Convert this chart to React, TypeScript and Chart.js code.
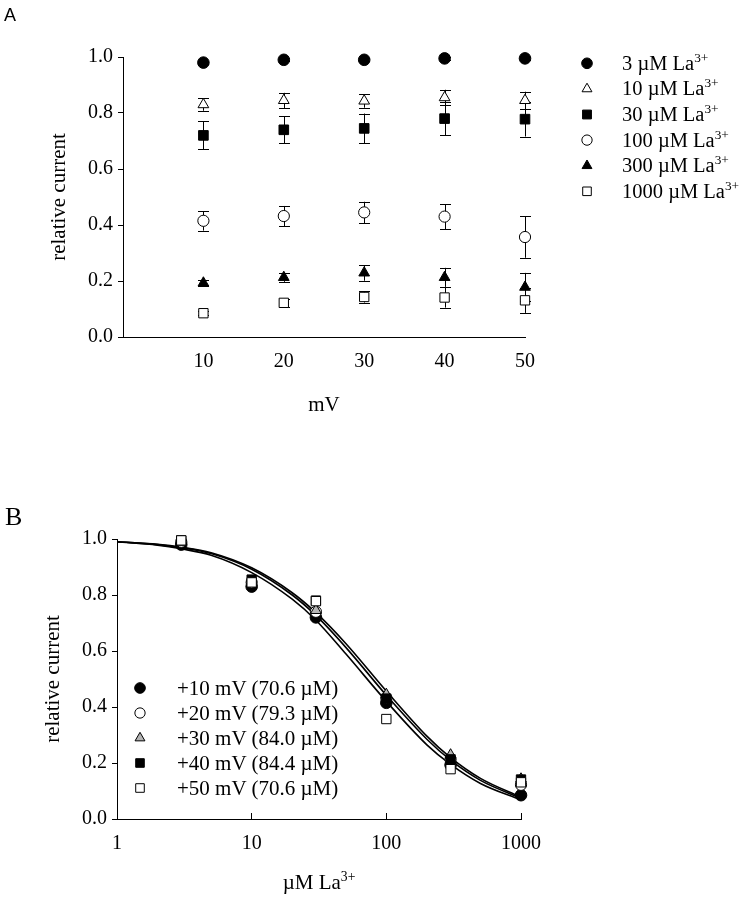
import React, { useEffect, useRef } from 'react';
import { Chart, registerables } from 'chart.js';
import { drawPoint } from 'chart.js/helpers';

Chart.register(...registerables);

const SERIF = "'Liberation Serif', 'Times New Roman', serif";
const SANS = "'Liberation Sans', Arial, sans-serif";

// ---------- Panel A data ----------
const voltages = [10, 20, 30, 40, 50];
const concentrations = [3, 10, 30, 100, 300, 1000];
const rel3 = [0.98, 0.99, 0.99, 0.995, 0.995];
const err3 = [0.005, 0.005, 0.005, 0.005, 0.005];
const rel10 = [0.83, 0.845, 0.843, 0.855, 0.845];
const err10 = [0.022, 0.027, 0.024, 0.028, 0.031];
const rel30 = [0.72, 0.74, 0.745, 0.78, 0.778];
const err30 = [0.05, 0.048, 0.053, 0.06, 0.062];
const rel100 = [0.415, 0.432, 0.445, 0.43, 0.357];
const err100 = [0.035, 0.036, 0.038, 0.045, 0.074];
const rel300 = [0.193, 0.213, 0.229, 0.213, 0.178];
const err300 = [0.012, 0.016, 0.028, 0.034, 0.051];
const rel1000 = [0.085, 0.122, 0.143, 0.141, 0.131];
const err1000 = [0.008, 0.014, 0.02, 0.036, 0.045];
const relByConc = [rel3, rel10, rel30, rel100, rel300, rel1000];
const errByConc = [err3, err10, err30, err100, err300, err1000];
const xTicksA = [10, 20, 30, 40, 50];
const yTicks = [0, 0.2, 0.4, 0.6, 0.8, 1.0];

// ---------- Panel B data ----------
const ic50 = [70.6, 79.3, 84.0, 84.4, 70.6];
const xTicksB = [1, 10, 100, 1000];
const curveX = [1, 2, 3, 5, 10, 20, 30, 50, 100, 200, 300, 500, 1000];
const curveLow = [0.99, 0.978, 0.965, 0.942, 0.88, 0.785, 0.71, 0.59, 0.42, 0.265, 0.195, 0.127, 0.068];
const curveMid = [0.99, 0.98, 0.969, 0.948, 0.892, 0.8, 0.727, 0.613, 0.442, 0.285, 0.21, 0.138, 0.074];
const curveHigh = [0.99, 0.981, 0.971, 0.951, 0.897, 0.808, 0.737, 0.627, 0.457, 0.296, 0.219, 0.145, 0.078];

// ---------- styles ----------
const stylesA = [
  { pointStyle: 'circle', fill: '#000', r: 5.8 },
  { pointStyle: 'triangle', fill: '#fff', r: 6.2 },
  { pointStyle: 'rect', fill: '#000', r: 6.8 },
  { pointStyle: 'circle', fill: '#fff', r: 5.6 },
  { pointStyle: 'triangle', fill: '#000', r: 6.2 },
  { pointStyle: 'rect', fill: '#fff', r: 6.6 },
];
const stylesB = [
  { pointStyle: 'circle', fill: '#000', r: 5.8 },
  { pointStyle: 'circle', fill: '#fff', r: 5.6 },
  { pointStyle: 'triangle', fill: '#b4b4b4', r: 6.2 },
  { pointStyle: 'rect', fill: '#000', r: 6.6 },
  { pointStyle: 'rect', fill: '#fff', r: 6.6 },
];

const errorBarPlugin = {
  id: 'errorBars',
  beforeDatasetsDraw(chart: any) {
    const { ctx } = chart;
    const xs = chart.scales.x;
    const ys = chart.scales.y;
    ctx.save();
    ctx.strokeStyle = '#000';
    ctx.lineWidth = 1;
    chart.data.datasets.forEach((ds: any) => {
      if (!ds.errors) return;
      ds.data.forEach((p: any, i: number) => {
        const e = ds.errors[i];
        if (!e) return;
        const x = Math.round(xs.getPixelForValue(p.x)) + 0.5;
        const yt = ys.getPixelForValue(p.y + e);
        const yb = ys.getPixelForValue(p.y - e);
        ctx.beginPath();
        ctx.moveTo(x, yt);
        ctx.lineTo(x, yb);
        ctx.moveTo(x - 5.5, Math.round(yt) + 0.5);
        ctx.lineTo(x + 5.5, Math.round(yt) + 0.5);
        ctx.moveTo(x - 5.5, Math.round(yb) + 0.5);
        ctx.lineTo(x + 5.5, Math.round(yb) + 0.5);
        ctx.stroke();
      });
    });
    ctx.restore();
  },
};

function legendMarkerPlugin(items: { style: string; fill: string; r: number; x: number; y: number }[]) {
  return {
    id: 'legendMarkers',
    afterDraw(chart: any) {
      const ctx = chart.ctx;
      items.forEach((it) => {
        ctx.save();
        ctx.fillStyle = it.fill;
        ctx.strokeStyle = '#000';
        ctx.lineWidth = 1;
        drawPoint(ctx, { pointStyle: it.style as any, radius: it.r, borderWidth: 1, rotation: 0 } as any, it.x, it.y);
        ctx.restore();
      });
    },
  };
}

const tickFont = { family: SERIF, size: 20 };
const titleFont = { family: SERIF, size: 21 };

function yAxis(width: number, titlePad: number) {
  return {
    type: 'linear',
    min: 0,
    max: 1,
    afterBuildTicks: (s: any) => {
      s.ticks = yTicks.map((v) => ({ value: v }));
    },
    afterFit: (s: any) => {
      s.width = width;
    },
    grid: { display: true, drawOnChartArea: false, drawTicks: true, tickLength: 5, color: '#000', lineWidth: 1 },
    border: { display: true, color: '#000', width: 1 },
    ticks: { color: '#000', font: tickFont, padding: 5, callback: (v: any) => Number(v).toFixed(1) },
    title: { display: true, text: 'relative current', color: '#000', font: titleFont, padding: { top: titlePad, bottom: 0 } },
  };
}

function Sup({ children }: { children: React.ReactNode }) {
  return <span style={{ fontSize: '0.65em', position: 'relative', top: '-0.6em' }}>{children}</span>;
}

function TextAt({ left, baseline, size, family, children, center }: any) {
  return (
    <div
      style={{
        position: 'absolute',
        left: center ? left - 200 : left,
        width: center ? 400 : undefined,
        textAlign: center ? 'center' : 'left',
        top: baseline - 0.8375 * size,
        fontSize: size,
        lineHeight: `${size}px`,
        fontFamily: family,
        whiteSpace: 'nowrap',
        color: '#000',
      }}
    >
      {children}
    </div>
  );
}

// legend layout
const legendAX = 587;
const legendAY0 = 63.3;
const legendAStep = 25.6;
const legendBX = 140;
const legendBY0 = 688;
const legendBStep = 25;
const B_TOP = 440;

export default function App() {
  const refA = useRef<HTMLCanvasElement>(null);
  const refB = useRef<HTMLCanvasElement>(null);

  useEffect(() => {
    const dsA = concentrations.map((c, k) => ({
      label: `${c} µM La3+`,
      data: voltages.map((v, i) => ({ x: v, y: relByConc[k][i] })),
      errors: errByConc[k],
      pointStyle: stylesA[k].pointStyle,
      pointRadius: stylesA[k].r,
      pointBackgroundColor: stylesA[k].fill,
      pointBorderColor: '#000',
      pointBorderWidth: 1,
      showLine: false,
      clip: false,
    }));
    const chartA = new Chart(refA.current!, {
      type: 'scatter',
      data: { datasets: dsA as any },
      plugins: [
        errorBarPlugin,
        legendMarkerPlugin(
          stylesA.map((s, k) => ({ style: s.pointStyle, fill: s.fill, r: s.r * 0.92, x: legendAX, y: legendAY0 + k * legendAStep }))
        ),
      ],
      options: {
        animation: false,
        responsive: false,
        devicePixelRatio: 1,
        layout: { padding: { left: 0, top: 57, right: 742 - 525, bottom: 420 - 337 - 82 } },
        plugins: { legend: { display: false }, tooltip: { enabled: false } },
        scales: {
          x: {
            type: 'linear',
            min: 0,
            max: 50,
            afterBuildTicks: (s: any) => {
              s.ticks = xTicksA.map((v) => ({ value: v }));
            },
            afterFit: (s: any) => {
              s.height = 82;
            },
            grid: { display: false, drawOnChartArea: false, drawTicks: false },
            border: { display: true, color: '#000', width: 1 },
            ticks: { color: '#000', font: tickFont, padding: 13, maxRotation: 0, autoSkip: false },
            title: { display: true, text: 'mV', color: '#000', font: titleFont, padding: { top: 0, bottom: 1 } },
          },
          y: yAxis(123, 47),
        } as any,
      },
    });

    const dsB: any[] = [];
    [curveLow, curveMid, curveHigh].forEach((cv, j) => {
      dsB.push({
        type: 'line',
        label: `fit ${j}`,
        data: curveX.map((x, i) => ({ x, y: cv[i] })),
        borderColor: '#000',
        borderWidth: 1.6,
        pointRadius: 0,
        showLine: true,
        fill: false,
        cubicInterpolationMode: 'monotone',
        order: 10,
        clip: false,
      });
    });
    voltages.forEach((v, k) => {
      dsB.push({
        label: `+${v} mV (${ic50[k].toFixed(1)} µM)`,
        data: concentrations.map((c, i) => ({ x: c, y: relByConc[i][k] })),
        pointStyle: stylesB[k].pointStyle,
        pointRadius: stylesB[k].r,
        pointBackgroundColor: stylesB[k].fill,
        pointBorderColor: '#000',
        pointBorderWidth: 1,
        showLine: false,
        order: 5 - k,
        clip: false,
      });
    });
    const chartB = new Chart(refB.current!, {
      type: 'scatter',
      data: { datasets: dsB },
      plugins: [
        legendMarkerPlugin(
          stylesB.map((s, k) => ({ style: s.pointStyle, fill: s.fill, r: s.r * 0.92, x: legendBX, y: legendBY0 + k * legendBStep - B_TOP }))
        ),
      ],
      options: {
        animation: false,
        responsive: false,
        devicePixelRatio: 1,
        layout: { padding: { left: 0, top: 539 - B_TOP, right: 742 - 521, bottom: 899 - 819 - 60 } },
        plugins: { legend: { display: false }, tooltip: { enabled: false } },
        scales: {
          x: {
            type: 'logarithmic',
            min: 1,
            max: 1000,
            afterBuildTicks: (s: any) => {
              s.ticks = xTicksB.map((v) => ({ value: v, major: true }));
            },
            afterFit: (s: any) => {
              s.height = 60;
            },
            grid: { display: true, drawOnChartArea: false, drawTicks: true, tickLength: -6, color: '#000', lineWidth: 1 },
            border: { display: true, color: '#000', width: 1 },
            ticks: { color: '#000', font: tickFont, padding: 19, maxRotation: 0, autoSkip: false, callback: (v: any) => String(v) },
            title: { display: false },
          },
          y: yAxis(117, 41),
        } as any,
      },
    });

    return () => {
      chartA.destroy();
      chartB.destroy();
    };
  }, []);

  return (
    <div style={{ position: 'absolute', left: 0, top: 0, width: 742, height: 899, background: '#fff', overflow: 'hidden' }}>
      <canvas ref={refA} width={742} height={420} style={{ position: 'absolute', left: 0, top: 0 }} />
      <canvas ref={refB} width={742} height={459} style={{ position: 'absolute', left: 0, top: B_TOP }} />
      <TextAt left={4} baseline={21} size={18} family={SANS}>A</TextAt>
      <TextAt left={5} baseline={526} size={26} family={SERIF}>B</TextAt>
      {concentrations.map((c, k) => (
        <TextAt key={c} left={622} baseline={legendAY0 + k * legendAStep + 6.7} size={20.5} family={SERIF}>
          {c} µM La<Sup>3+</Sup>
        </TextAt>
      ))}
      {voltages.map((v, k) => (
        <TextAt key={v} left={177} baseline={legendBY0 + k * legendBStep + 8} size={21} family={SERIF}>
          +{v} mV ({ic50[k].toFixed(1)} µM)
        </TextAt>
      ))}
      <TextAt left={319} baseline={890} size={21} family={SERIF} center>
        µM La<Sup>3+</Sup>
      </TextAt>
    </div>
  );
}
